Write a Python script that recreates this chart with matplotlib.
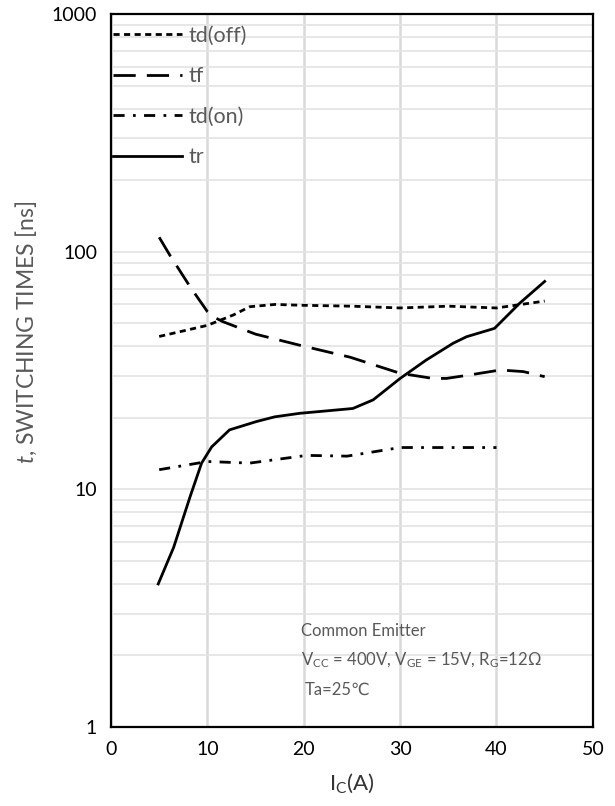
import matplotlib.pyplot as plt

plt.rcParams["font.family"] = ["Lato", "DejaVu Sans"]
plt.rcParams["mathtext.fontset"] = "custom"
plt.rcParams["mathtext.rm"] = "Lato"
plt.rcParams["mathtext.it"] = "Lato:italic"

# values
td_off_x = [5, 10, 12.7, 14.4, 17, 20, 25, 30, 35, 40, 45]
td_off_y = [44, 49, 54.2, 58.7, 60, 59.5, 59, 58, 59, 58, 62]

tf_x = [5, 6.1, 8.2, 10, 10.6, 11.6, 15, 19.6, 24.8, 30, 33.4, 34.8, 37.2, 40.4, 42.8, 45]
tf_y = [115, 96.8, 71.3, 56, 53.3, 50.8, 45, 40.4, 36, 30.8, 29.3, 29.3, 30.3, 31.8, 31.3, 29.8]

td_on_x = [5, 10, 14.4, 20.3, 24.5, 30, 35, 40]
td_on_y = [12.1, 13.1, 12.9, 13.9, 13.8, 15.0, 15.0, 15.0]

tr_x = [4.9, 6.5, 8.2, 9.4, 10.45, 12.3, 15.1, 17, 19.6, 22.4, 25.1, 27.2, 28.9, 30, 32.7,
        35.5, 36.9, 39.8, 42.4, 45]
tr_y = [4.0, 5.7, 9.3, 12.9, 15.1, 17.8, 19.3, 20.2, 20.9, 21.4, 21.9, 23.8, 27.0, 29.3, 35.0,
        41.2, 43.9, 47.6, 60.7, 75]

x_ticks = [0, 10, 20, 30, 40, 50]
y_ticks = [1, 10, 100, 1000]

gray_text = "#595959"

fig = plt.figure(figsize=(6.15, 8.06), dpi=100)
ax = fig.add_axes([0.1805, 0.098, 0.7835, 0.8845])

ax.plot(td_off_x, td_off_y, color="black", lw=2, linestyle=(0, (2.2, 1.6)), label="td(off)")
ax.plot(tf_x, tf_y, color="black", lw=2, linestyle=(0, (8, 4)), label="tf")
ax.plot(td_on_x, td_on_y, color="black", lw=2, linestyle=(0, (4, 3, 1, 3)), label="td(on)")
ax.plot(tr_x, tr_y, color="black", lw=2, linestyle="-", label="tr")

ax.set_yscale("log")
ax.set_xlim(0, 50)
ax.set_ylim(1, 1000)
ax.set_xticks(x_ticks)
ax.set_yticks(y_ticks)
ax.set_yticklabels([str(v) for v in y_ticks])
ax.tick_params(axis="both", which="both", length=0, labelsize=14, pad=10)
ax.tick_params(axis="y", which="minor", labelleft=False)

ax.grid(True, axis="x", color="#d9d9d9", lw=1.8)
ax.grid(True, axis="y", which="both", color="#e3e3e3", lw=1.2)
ax.set_axisbelow(True)
for s in ax.spines.values():
    s.set_linewidth(1.6)
    s.set_color("black")

ax.set_xlabel(r"$\mathregular{I_C}$(A)", fontsize=16, color="#333333", labelpad=10)
ax.set_ylabel(r"$\mathit{t}$, SWITCHING TIMES [ns]", fontsize=16.5, color=gray_text)
ax.yaxis.set_label_coords(-0.15, 0.554)

leg = ax.legend(loc="upper left", frameon=False, fontsize=15.5, handlelength=3.2,
                handletextpad=0.3, labelspacing=0.95, borderaxespad=0.0, borderpad=0.55)
leg.set_bbox_to_anchor((-0.02, 1.0), transform=ax.transAxes)
for t in leg.get_texts():
    t.set_color(gray_text)

ann_size = 12
ax.text(0.395, 0.128, "Common Emitter", transform=ax.transAxes, fontsize=ann_size, color=gray_text)
ax.text(0.395, 0.087, r"$\mathregular{V_{CC}}$ = 400V, $\mathregular{V_{GE}}$ = 15V, $\mathregular{R_G}$=12Ω",
        transform=ax.transAxes, fontsize=ann_size, color=gray_text)
ax.text(0.402, 0.045, "Ta=25℃", transform=ax.transAxes, fontsize=ann_size, color=gray_text)

fig.savefig("out.png", dpi=100)
